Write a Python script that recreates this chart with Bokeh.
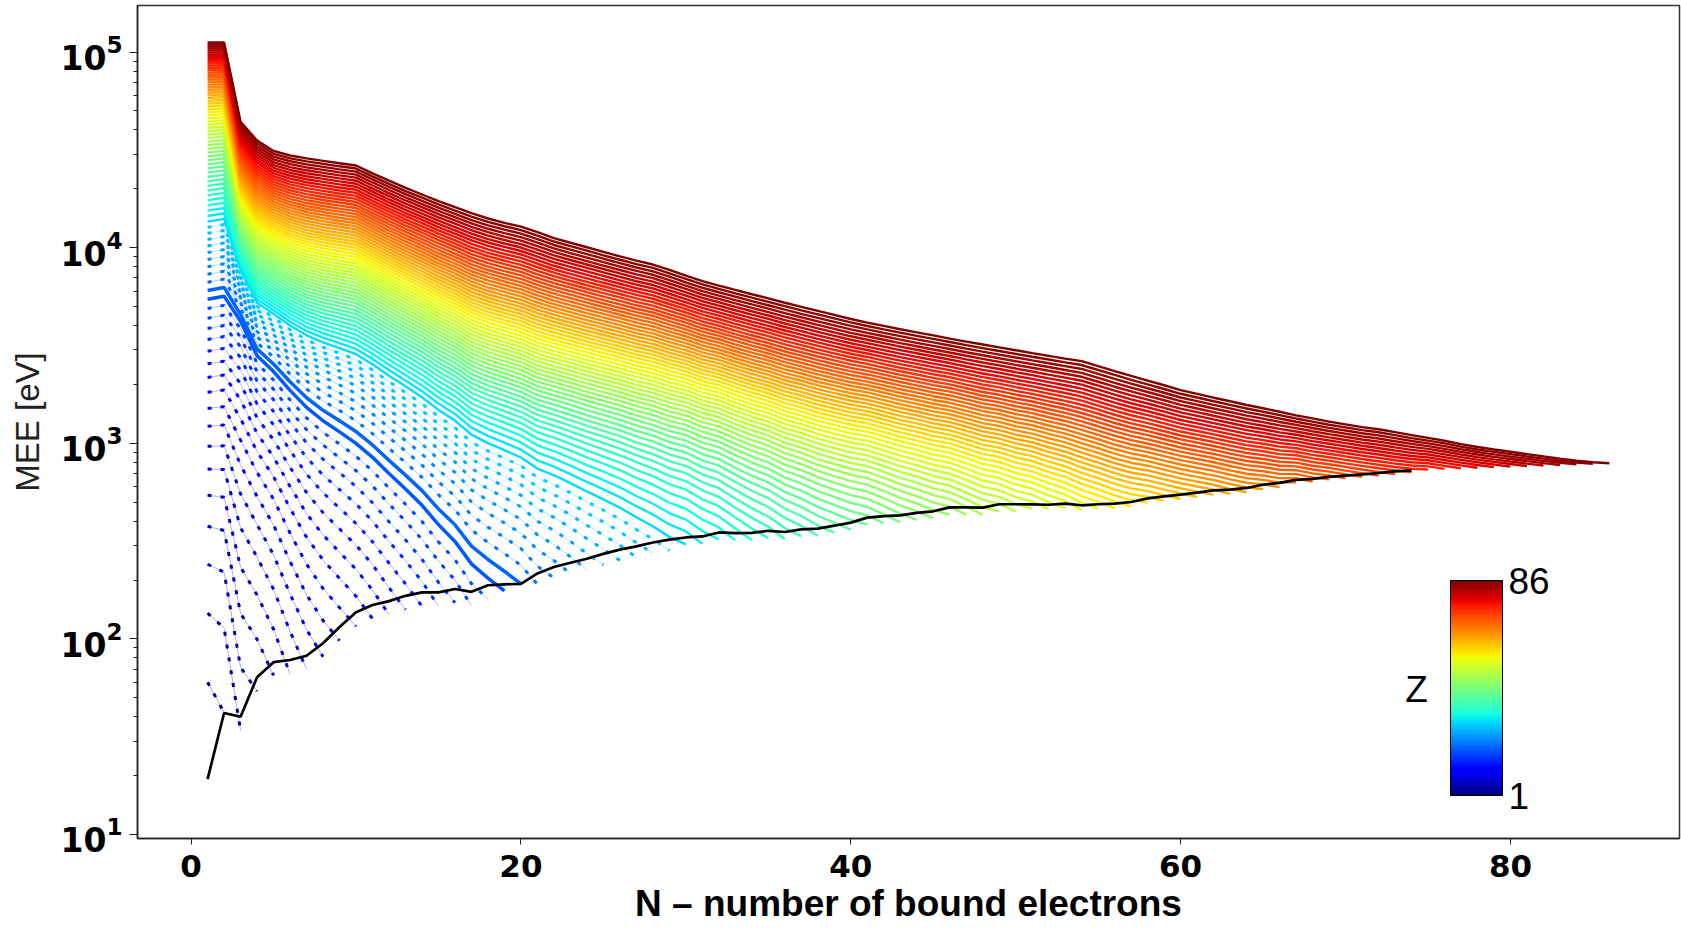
import numpy as np
from bokeh.plotting import figure
from bokeh.models import (ColorBar, LinearColorMapper, FixedTicker, Label,
                          ColumnDataSource, LogTicker)
from bokeh.embed import file_html
from bokeh.resources import INLINE

# ---------------- data ----------------
z_max = 86
# MEE of the Z = 86 ion as a function of N (top envelope), N = 1..86
mee_z86 = [112000, 112000, 44000, 35300, 31200, 29600, 28600, 27800, 27000, 26300,
           24000, 22000, 20200, 18700, 17300, 16100, 15000, 14100, 13400, 12800,
           12000, 11200, 10600, 10050, 9520, 9030, 8580, 8200, 7700, 7200,
           6750, 6400, 6080, 5780, 5500, 5230, 4980, 4750, 4530, 4320,
           4140, 3980, 3830, 3690, 3560, 3430, 3310, 3200, 3090, 2990,
           2890, 2800, 2710, 2630, 2480, 2340, 2210, 2090, 1980, 1870,
           1790, 1710, 1640, 1570, 1510, 1450, 1390, 1340, 1290, 1250,
           1210, 1180, 1140, 1100, 1065, 1030, 990, 957, 930, 905,
           880, 857, 835, 815, 800, 790]
# MEE at the end of each Z curve (neutral atom, N = Z), Z = 1..86
mee_ion_end = [15, 42, 34, 54, 65, 66, 70, 81, 98, 116,
               127, 133, 141, 147, 147, 153, 148, 160, 176, 191,
               190, 205, 216, 226, 239, 252, 261, 274, 283, 304,
               307, 322, 319, 320, 328, 324, 334, 337, 349, 362,
               384, 390, 394, 406, 413, 432, 432, 431, 449, 449,
               463, 461, 466, 458, 464, 466, 476, 497, 508, 519,
               532, 545, 551, 561, 583, 597, 631, 638, 654, 663,
               673, 684, 696, 712, 735, 740, 745, 750, 755, 760,
               765, 770, 775, 780, 785, 790]
# black line: MEE of neutral atoms, Z = 1..74
mee_neutral = [19.2, 41.8, 40.0, 63.7, 76.0, 78.0, 82.0, 95.0, 115.0, 137.0,
               149.0, 156.0, 166.0, 173.0, 173.0, 180.0, 174.0, 188.0, 190.0, 191.0,
               216.0, 233.0, 245.0, 257.0, 272.0, 286.0, 297.0, 311.0, 322.0, 330.0,
               334.0, 350.0, 347.0, 348.0, 357.0, 352.0, 363.0, 366.0, 379.0, 393.0,
               417.0, 424.0, 428.0, 441.0, 449.0, 470.0, 470.0, 469.0, 488.0, 488.0,
               487.0, 485.0, 491.0, 482.0, 488.0, 491.0, 501.0, 523.0, 535.0, 546.0,
               560.0, 574.0, 580.0, 591.0, 614.0, 628.0, 650.0, 658.0, 674.0, 684.0,
               694.0, 705.0, 718.0, 727.0]
# position of the colour bands between neutral end and Z = 86 curve (read per N)
band_n = [3, 4, 10, 20, 40, 60, 86]
band_a = [0.65, 0.58, 0.50, 0.36, 0.25, 0.14, 0.10]
band_k = [6.0, 6.0, 8.0, 8.0, 8.0, 8.0, 8.0]
h_like_c = {1: 1.0, 2: 1.5}
solid_blue_z = [19, 20]
dotted_max_z = 29

x_ticks = [0, 20, 40, 60, 80]

# ---------------- colormap (matplotlib jet) ----------------
_r = [(0.0, 0.0), (0.35, 0.0), (0.66, 1.0), (0.89, 1.0), (1.0, 0.5)]
_g = [(0.0, 0.0), (0.125, 0.0), (0.375, 1.0), (0.64, 1.0), (0.91, 0.0), (1.0, 0.0)]
_b = [(0.0, 0.5), (0.11, 1.0), (0.34, 1.0), (0.65, 0.0), (1.0, 0.0)]


def jet(t):
    def ch(seg):
        xs = [s[0] for s in seg]
        ys = [s[1] for s in seg]
        return float(np.interp(t, xs, ys))
    r, g, b = ch(_r), ch(_g), ch(_b)
    return "#%02x%02x%02x" % (int(round(r * 255)), int(round(g * 255)), int(round(b * 255)))


jet_palette = [jet(i / 255) for i in range(256)]

top = np.array(mee_z86, dtype=float)
end = np.array(mee_ion_end, dtype=float)


def curve(Z):
    N = np.arange(1, Z + 1)
    if Z == z_max:
        return N, top.copy()
    vals = []
    for n in N:
        base = end[n - 1]
        t = top[n - 1]
        d = Z - n
        span = z_max - n
        if n in h_like_c:
            c = h_like_c[n]
            u = np.log((d + c) / c) / np.log((span + c) / c)
        else:
            a = np.interp(n, band_n, band_a)
            k = np.interp(n, band_n, band_k)
            s = (1 - np.exp(-d / k)) / (1 - np.exp(-span / k))
            u = a * s + (1 - a) * d / span
        vals.append(base * np.exp(u * np.log(t / base)))
    return N, np.array(vals)


groups = {"dot_lo": [], "blue": [], "dot_hi": [], "solid": []}
for Z in range(2, z_max + 1):
    N, m = curve(Z)
    col = jet((Z - 1) / (z_max - 1))
    if Z in solid_blue_z:
        key = "blue"
    elif Z < solid_blue_z[0]:
        key = "dot_lo"
    elif Z <= dotted_max_z:
        key = "dot_hi"
    else:
        key = "solid"
    groups[key].append((list(map(float, N)), list(map(float, m)), col))


def src(items):
    return ColumnDataSource(dict(xs=[i[0] for i in items], ys=[i[1] for i in items],
                                 color=[i[2] for i in items]))


# ---------------- figure ----------------
p = figure(width=1681, height=928, y_axis_type="log",
           x_range=(-3.25, 90.25), y_range=(9.54, 1.73e5),
           output_backend="svg", toolbar_location=None,
           min_border_left=137, min_border_right=2, min_border_top=5, min_border_bottom=90)
p.grid.visible = False
p.outline_line_color = "#333333"
p.outline_line_width = 1.5
p.background_fill_color = "white"

for key in ["dot_lo", "blue", "dot_hi", "solid"]:
    items = groups[key]
    if not items:
        continue
    s = src(items)
    if key.startswith("dot"):
        p.multi_line("xs", "ys", source=s, line_color="color", line_width=0.7, line_alpha=0.45)
        p.multi_line("xs", "ys", source=s, line_color="color", line_width=3, line_dash="4 9")
    elif key == "blue":
        p.multi_line("xs", "ys", source=s, line_color="color", line_width=3.5)
    else:
        p.multi_line("xs", "ys", source=s, line_color="color", line_width=2.4)

p.line(list(range(1, len(mee_neutral) + 1)), mee_neutral, line_color="black", line_width=2.7)

# axes
p.xaxis.ticker = FixedTicker(ticks=x_ticks)
p.yaxis.ticker = LogTicker(desired_num_ticks=5, num_minor_ticks=10)
for ax in (p.xaxis, p.yaxis):
    ax.axis_line_color = "#222222"
    ax.axis_line_width = 1.5
    ax.major_tick_line_color = "#222222"
    ax.minor_tick_line_color = "#222222"
    ax.major_tick_in = 0
    ax.minor_tick_in = 0
    ax.major_label_text_font = "DejaVu Sans"
    ax.major_label_text_font_style = "bold"
    ax.major_label_text_color = "black"
    ax.axis_label_text_font = "Liberation Sans"
    ax.axis_label_text_color = "black"
p.xaxis.major_tick_out = 6
p.yaxis.major_tick_out = 8
p.yaxis.minor_tick_out = 4
p.xaxis.major_label_text_font_size = "31px"
p.yaxis.major_label_text_font_size = "33px"
p.xaxis.major_label_standoff = 10
p.yaxis.major_label_standoff = 7

p.xaxis.axis_label = "N \u2013 number of bound electrons"
p.xaxis.axis_label_text_font_style = "bold"
p.xaxis.axis_label_text_font_size = "37px"
p.xaxis.axis_label_standoff = 3
p.yaxis.axis_label = "MEE [eV]"
p.yaxis.axis_label_text_font_style = "normal"
p.yaxis.axis_label_text_font_size = "33px"
p.yaxis.axis_label_text_color = "#222222"
p.yaxis.axis_label_standoff = 12

# colour bar
mapper = LinearColorMapper(palette=jet_palette, low=1, high=86)
cb = ColorBar(color_mapper=mapper, width=52, height=215, location=(1313, 43),
              ticker=FixedTicker(ticks=[1, 86]), padding=0,
              major_label_text_font="Liberation Sans", major_label_text_font_size="37px",
              major_label_text_color="black", major_tick_line_color=None,
              label_standoff=6, bar_line_color="black", bar_line_width=1,
              background_fill_alpha=0, border_line_color=None)
p.add_layout(cb)
p.add_layout(Label(x=1279, y=149, x_units="screen", y_units="screen", text="Z",
                   text_align="center", text_baseline="middle", text_font="Liberation Sans",
                   text_font_size="37px", text_color="black"))

open("out.html", "w").write(file_html(p, INLINE))
